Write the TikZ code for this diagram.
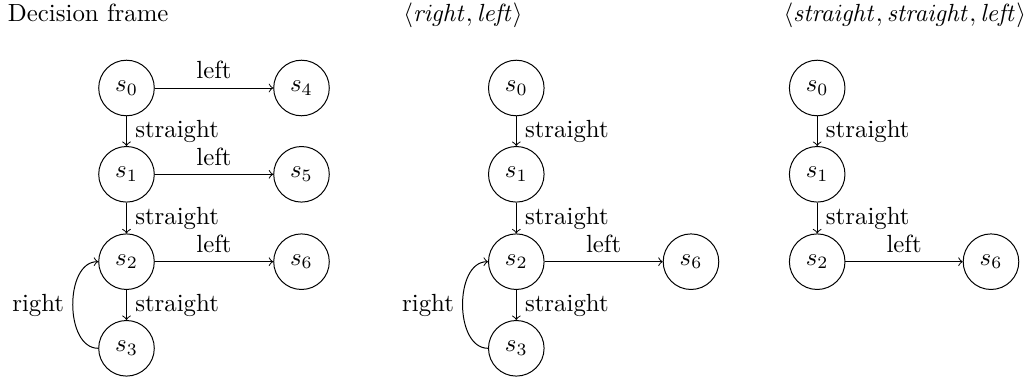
\documentclass[tikz,border=0pt]{standalone}
\begin{document}
\begin{tikzpicture}[x=0.403pt,y=-0.403pt,
  state/.style={circle,draw,minimum size=22.4pt,inner sep=0pt},
  trans/.style={->},
  heading/.style={anchor=base west,inner sep=0pt}]
\useasboundingbox (0,0) rectangle (1028,381);

% Panel 1: decision frame
\node[heading] (h1) at (7.5,21.5) {Decision frame};
\node[state] (a0) at (126.5,88)    {$s_0$};
\node[state] (a1) at (126.5,174.3) {$s_1$};
\node[state] (a2) at (126.5,261.7) {$s_2$};
\node[state] (a3) at (126.5,348.3) {$s_3$};
\node[state] (a4) at (301.5,88)    {$s_4$};
\node[state] (a5) at (301.5,174.3) {$s_5$};
\node[state] (a6) at (301.5,261.7) {$s_6$};
\draw[trans] (a0) -- node[right] {straight} (a1);
\draw[trans] (a1) -- node[right] {straight} (a2);
\draw[trans] (a2) -- node[right] {straight} (a3);
\draw[trans] (a0) -- node[above] {left} (a4);
\draw[trans] (a1) -- node[above] {left} (a5);
\draw[trans] (a2) -- node[above] {left} (a6);
\draw[trans] (a3) to[out=180,in=180] node[left] {right} (a2);

% Panel 2: <right, left>
\node[heading] (h2) at (403,21.5) {$\langle \mathit{right}, \mathit{left}\rangle$};
\node[state] (b0) at (516.3,88)    {$s_0$};
\node[state] (b1) at (516.3,174.3) {$s_1$};
\node[state] (b2) at (516.3,261.7) {$s_2$};
\node[state] (b3) at (516.3,348.3) {$s_3$};
\node[state] (b6) at (691,261.7)   {$s_6$};
\draw[trans] (b0) -- node[right] {straight} (b1);
\draw[trans] (b1) -- node[right] {straight} (b2);
\draw[trans] (b2) -- node[right] {straight} (b3);
\draw[trans] (b2) -- node[above] {left} (b6);
\draw[trans] (b3) to[out=180,in=180] node[left] {right} (b2);

% Panel 3: <straight, straight, left>
\node[heading,anchor=base east] (h3) at (1026.5,21.5) {$\langle \mathit{straight}, \mathit{straight}, \mathit{left}\rangle$};
\node[state] (c0) at (817.2,88)    {$s_0$};
\node[state] (c1) at (817.2,174.3) {$s_1$};
\node[state] (c2) at (817.2,261.7) {$s_2$};
\node[state] (c6) at (991,261.7)   {$s_6$};
\draw[trans] (c0) -- node[right] {straight} (c1);
\draw[trans] (c1) -- node[right] {straight} (c2);
\draw[trans] (c2) -- node[above] {left} (c6);
\end{tikzpicture}
\end{document}
